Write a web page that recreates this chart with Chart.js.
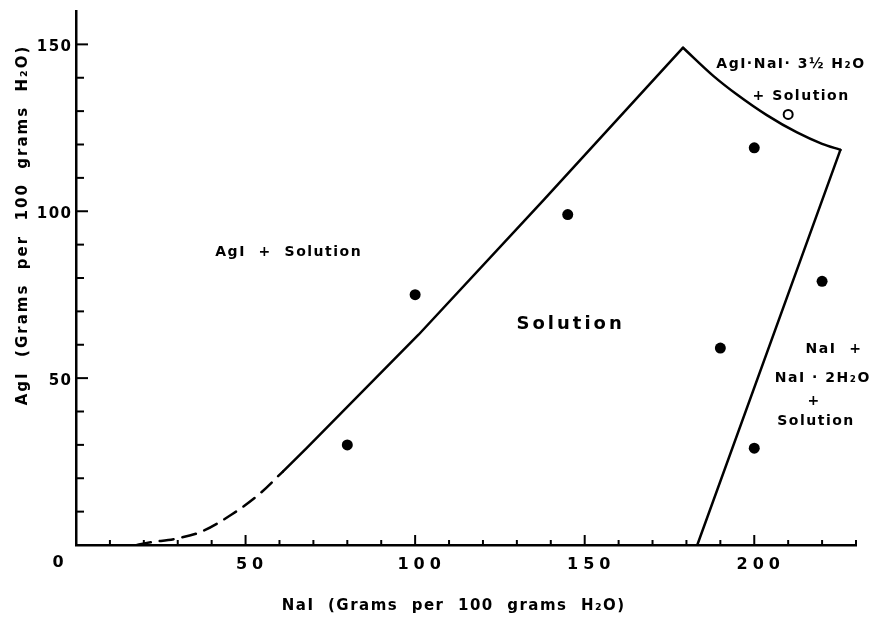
<!DOCTYPE html>
<html>
<head>
<meta charset="utf-8">
<script src="https://cdn.jsdelivr.net/npm/chart.js@4.4.1/dist/chart.umd.min.js"></script>
<style>
  html, body { margin: 0; padding: 0; background: #fff; }
  #wrap { width: 876px; height: 634px; }
</style>
</head>
<body>
<div id="wrap"><canvas id="chart" width="876" height="634"></canvas></div>
<script>
// AgI - NaI - H2O system

// metastable (dashed) part of the AgI saturation curve
const dashedX = [18, 22, 29, 37, 46, 54, 61];
const dashedY = [0, 0.8, 1.8, 4.0, 9.2, 15.2, 22];

// AgI saturation curve (solid)
const agiX = [61, 68, 101, 138, 179];
const agiY = [22, 29, 63, 103.5, 149];

// double salt AgI.NaI.3.5H2O curve
const doubleX = [179, 188, 195, 203.7, 212.6, 220, 225.4];
const doubleY = [149, 140.5, 134.9, 128.8, 123.6, 120.2, 118.4];

// NaI / NaI.2H2O boundary
const naiX = [183.2, 225.4];
const naiY = [0, 118.4];

// experimental points
const solidX = [80, 100, 145, 200, 220, 190, 200];
const solidY = [30, 75, 99, 119, 79, 59, 29];
const openX = [210];
const openY = [129];

// axes
const xTickLabels = [50, 100, 150, 200];
const yTickLabels = [50, 100, 150];
const xMinorTicks = [10, 20, 30, 40, 50, 60, 70, 80, 90, 100, 110, 120, 130, 140, 150, 160, 170, 180, 190, 200, 210, 220, 230];
const yMinorTicks = [10, 20, 30, 40, 50, 60, 70, 80, 90, 100, 110, 120, 130, 140, 150];

const xTitle = 'NaI  (Grams  per  100  grams  H\u2082O)';
const yTitle = 'AgI  (Grams  per  100  grams  H\u2082O)';

// region labels (data coordinates)
const notes = [
    { text: 'AgI  +  Solution', x: 62.5, y: 87.6, size: 14, spacing: 1.5 },
    { text: 'Solution', x: 145.4, y: 66, size: 18, spacing: 3 },
    { text: 'AgI\u00b7NaI\u00b7 3\u00bd H\u2082O', x: 210.6, y: 144, size: 14, spacing: 1.5 },
    { text: '+ Solution', x: 213.6, y: 134.4, size: 14, spacing: 1.5 },
    { text: 'NaI  +', x: 223.3, y: 58.5, size: 14, spacing: 1.5 },
    { text: 'NaI \u00b7 2H\u2082O', x: 220, y: 50, size: 14, spacing: 1.5 },
    { text: '+', x: 217.4, y: 42.9, size: 14, spacing: 0 },
    { text: 'Solution', x: 218, y: 36.9, size: 14, spacing: 1.5 }
];

const FONT = '"DejaVu Sans", "Liberation Sans", sans-serif';

function zip(xs, ys) {
    return xs.map((v, i) => ({ x: v, y: ys[i] }));
}

// canvas letterSpacing adds trailing space, shift to keep text centred
function spacedText(ctx, str, px, py, size, spacing, align) {
    align = align || 'center';
    ctx.font = 'bold ' + size + 'px ' + FONT;
    ctx.letterSpacing = spacing + 'px';
    ctx.textAlign = align;
    ctx.textBaseline = 'middle';
    let shift = spacing / 2;
    if (align === 'right') shift = spacing;
    if (align === 'left') shift = 0;
    ctx.fillText(str, px + shift, py);
}

const paperMarks = {
    id: 'paperMarks',
    afterDraw(chart) {
        const { ctx, scales: { x, y } } = chart;
        const x0 = x.left;
        const y0 = y.bottom;
        ctx.save();
        ctx.strokeStyle = '#000';
        ctx.fillStyle = '#000';
        ctx.lineWidth = 2;

        // inward tick marks
        xMinorTicks.forEach(v => {
            const px = x.getPixelForValue(v);
            const len = xTickLabels.includes(v) ? 10 : 5;
            ctx.beginPath();
            ctx.moveTo(px, y0);
            ctx.lineTo(px, y0 - len);
            ctx.stroke();
        });
        yMinorTicks.forEach(v => {
            const py = y.getPixelForValue(v);
            const len = yTickLabels.includes(v) ? 12 : 8;
            ctx.beginPath();
            ctx.moveTo(x0, py);
            ctx.lineTo(x0 + len, py);
            ctx.stroke();
        });

        // tick labels
        xTickLabels.forEach(v => {
            spacedText(ctx, String(v), x.getPixelForValue(v) + 4, y0 + 20, 16, 5);
        });
        yTickLabels.forEach(v => {
            spacedText(ctx, String(v), x0 - 5, y.getPixelForValue(v) + 3, 15, 1.5, 'right');
        });
        spacedText(ctx, '0', x0 - 18, y0 + 18, 16, 0);

        // axis titles
        spacedText(ctx, xTitle, (x0 + x.right) / 2 - 13, y0 + 61, 15, 1.5);
        ctx.save();
        ctx.translate(23, (y.top + y0) / 2 - 52);
        ctx.rotate(-Math.PI / 2);
        spacedText(ctx, yTitle, 0, 0, 15, 2);
        ctx.restore();

        // region labels
        notes.forEach(n => {
            spacedText(ctx, n.text, x.getPixelForValue(n.x), y.getPixelForValue(n.y), n.size, n.spacing);
        });

        ctx.letterSpacing = '0px';
        ctx.restore();
    }
};

const lineStyle = {
    showLine: true,
    borderColor: '#000',
    borderWidth: 2.5,
    borderCapStyle: 'round',
    borderJoinStyle: 'round',
    pointRadius: 0,
    fill: false
};

new Chart(document.getElementById('chart'), {
    type: 'scatter',
    data: {
        datasets: [
            { ...lineStyle, label: 'metastable', data: zip(dashedX, dashedY), borderDash: [14, 9], cubicInterpolationMode: 'monotone' },
            { ...lineStyle, label: 'AgI', data: zip(agiX, agiY), tension: 0 },
            { ...lineStyle, label: 'AgI.NaI.3.5H2O', data: zip(doubleX, doubleY), cubicInterpolationMode: 'monotone' },
            { ...lineStyle, label: 'NaI.2H2O', data: zip(naiX, naiY), tension: 0 },
            {
                label: 'points', data: zip(solidX, solidY),
                pointRadius: 5.5, backgroundColor: '#000', borderWidth: 0, showLine: false
            },
            {
                label: 'open', data: zip(openX, openY),
                pointRadius: 4.5, backgroundColor: '#fff', borderColor: '#000', borderWidth: 2, showLine: false
            }
        ]
    },
    options: {
        responsive: false,
        animation: false,
        devicePixelRatio: 1,
        layout: { padding: { top: 11, right: 20, left: 0, bottom: 0 } },
        plugins: {
            legend: { display: false },
            tooltip: { enabled: false }
        },
        scales: {
            x: {
                type: 'linear',
                min: 0,
                max: 230,
                grid: { display: false, drawTicks: false },
                ticks: { display: false },
                border: { display: true, color: '#000', width: 2.5 },
                afterFit: s => { s.height = 89; }
            },
            y: {
                type: 'linear',
                min: 0,
                max: 160,
                grid: { display: false, drawTicks: false },
                ticks: { display: false },
                border: { display: true, color: '#000', width: 2.5 },
                afterFit: s => { s.width = 76; }
            }
        }
    },
    plugins: [paperMarks]
});
</script>
</body>
</html>
